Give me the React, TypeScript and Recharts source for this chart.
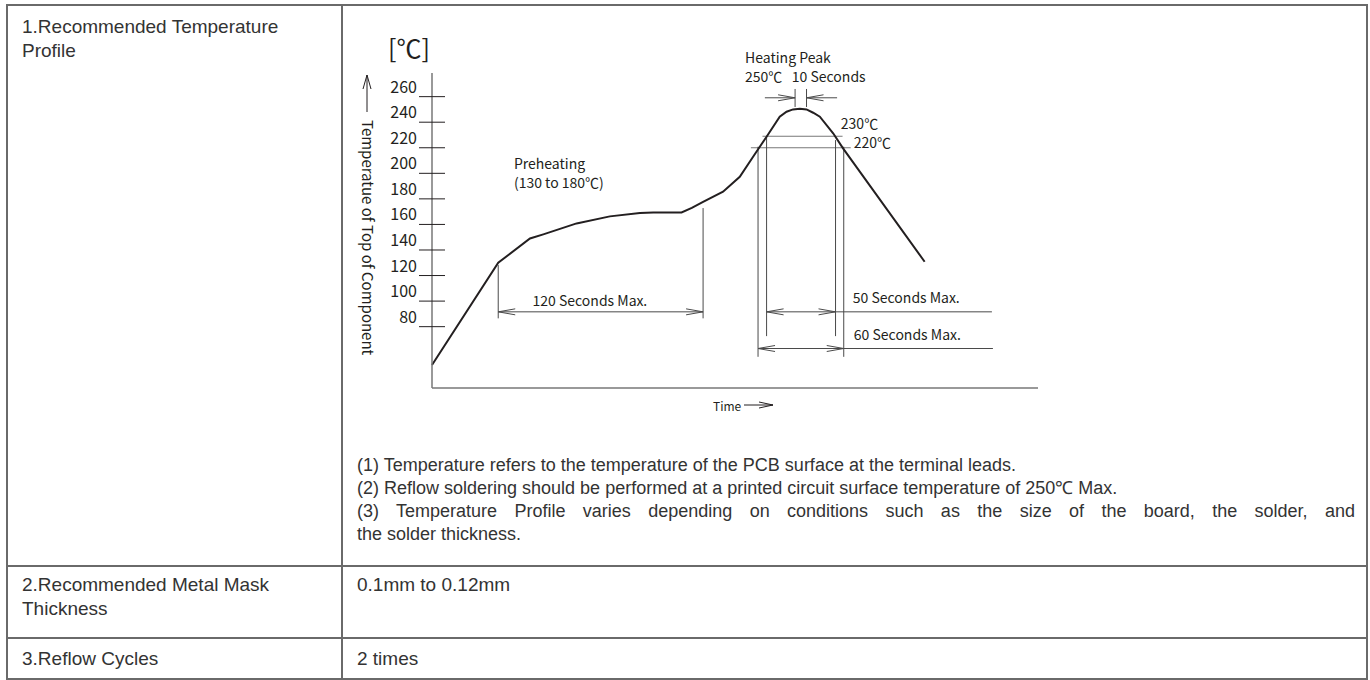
import React from "react";
import {
  ComposedChart,
  Line,
  XAxis,
  YAxis,
  ReferenceLine,
  ReferenceDot,
} from "recharts";

// reflow profile (time in s, temperature of top of component in °C)
const timeSec = [
  0, 38.8, 57.4, 65.2, 84.7, 104.2, 121.8, 129.6, 146.2, 152.2, 158.8, 170.5,
  180.3, 188.1, 196, 203.7, 207.7, 211.5, 215.5, 219.4, 223.3, 227.2, 235,
  240.8, 288.6,
];
const tempC = [
  50, 130, 149, 152.2, 160.8, 166.3, 168.9, 169.4, 169.4, 173, 177.7, 185.6,
  197.3, 213, 228.6, 244.3, 248.2, 250, 250.5, 250, 247.4, 244.3, 231.3, 219.5,
  130.8,
];
const tempTicks = [80, 100, 120, 140, 160, 180, 200, 220, 240, 260];

const rowTitles = [
  ["1.Recommended Temperature", "Profile"],
  ["2.Recommended Metal Mask", "Thickness"],
  ["3.Reflow Cycles"],
];
const rowValues = ["0.1mm to 0.12mm", "2 times"];
const notes = [
  "(1) Temperature refers to the temperature of the PCB surface at the terminal leads.",
  "(2) Reflow soldering should be performed at a printed circuit surface temperature of 250℃ Max.",
  "(3) Temperature Profile varies depending on conditions such as the size of the board, the solder, and",
  "the solder thickness.",
];

const profile = timeSec.map((t, i) => ({ t, temp: tempC[i] }));

const INK = "#231f20";
const THIN = "#4a4a4a";
const BORDER = "#6a6a6a";
const TEXT = "#333";
const CHART_FONT = '"Noto Sans CJK JP", "Noto Sans", sans-serif';
const TABLE_FONT = '"Liberation Sans", Arial, sans-serif';

// dimension line with open chevron heads
const dimension = (heads: "both" | "end") => (p: any) => {
  const { x1, y1, x2, y2 } = p;
  const len = Math.hypot(x2 - x1, y2 - y1) || 1;
  const ux = (x2 - x1) / len;
  const uy = (y2 - y1) / len;
  const L = 17;
  const W = 3;
  const head = (tx: number, ty: number, dx: number, dy: number) =>
    `M${tx - dx * L - dy * W},${ty - dy * L + dx * W}L${tx},${ty}L${tx - dx * L + dy * W},${ty - dy * L - dx * W}`;
  let d = `M${x1},${y1}L${x2},${y2}` + head(x2, y2, ux, uy);
  if (heads === "both") d += head(x1, y1, -ux, -uy);
  return <path d={d} fill="none" stroke={THIN} strokeWidth={1} />;
};

const TempTick = (props: any) => {
  const { x, y, payload } = props;
  return (
    <g>
      <line x1={x - 13} x2={x + 13} y1={y} y2={y} stroke={INK} strokeWidth={1} />
      <text
        x={x - 15}
        y={y - 11}
        textAnchor="end"
        dominantBaseline="central"
        fontSize={16}
        fill={INK}
      >
        {payload.value}
      </text>
    </g>
  );
};

const TempTitle = (props: any) => {
  const { viewBox } = props;
  const ax = viewBox.x + viewBox.width;
  const top = viewBox.y;
  const cx = ax - 65;
  return (
    <g fill={INK}>
      <text x={ax - 23} y={top - 26} textAnchor="middle" dominantBaseline="central" fontSize={25}>
        [℃]
      </text>
      <path
        d={`M${cx},${top + 2}L${cx},${top + 39}M${cx - 4},${top + 16}L${cx},${top + 2}L${cx + 4},${top + 16}`}
        stroke={INK}
        fill="none"
        strokeWidth={1}
      />
      <text
        x={cx + 1}
        y={top + 47}
        transform={`rotate(90 ${cx + 1} ${top + 47})`}
        dominantBaseline="central"
        fontSize={15}
      >
        Temperatue of Top of Component
      </text>
    </g>
  );
};

const TimeTitle = (props: any) => {
  const { viewBox } = props;
  const x = viewBox.x + 281;
  const y = viewBox.y + 17;
  return (
    <g>
      <text x={x} y={y} dominantBaseline="central" fontSize={12} fill={INK}>
        Time
      </text>
      <path
        d={`M${x + 31},${y}L${x + 60},${y}M${x + 46},${y - 3}L${x + 60},${y}L${x + 46},${y + 3}`}
        stroke={INK}
        fill="none"
        strokeWidth={1}
      />
    </g>
  );
};

const note = (t: number, v: number, text: string, position: "right" | "center" = "right") => (
  <ReferenceDot
    key={text}
    x={t}
    y={v}
    r={0}
    fill="none"
    stroke="none"
    ifOverflow="visible"
    label={{ value: text, position, offset: 0, fontSize: 14, fill: INK }}
  />
);

const ProfileChart = () => (
  <ComposedChart
    width={1023}
    height={440}
    data={profile}
    margin={{ top: 67, left: 29, right: 328, bottom: 28 }}
    style={{ fontFamily: CHART_FONT }}
  >
    <XAxis
      dataKey="t"
      type="number"
      domain={[0, 355]}
      tick={false}
      tickLine={false}
      height={30}
      axisLine={{ stroke: "#777", strokeWidth: 1.5 }}
      label={<TimeTitle />}
    />
    <YAxis
      type="number"
      domain={[32, 278.5]}
      ticks={tempTicks}
      interval={0}
      width={60}
      tickSize={0}
      tickMargin={0}
      tickLine={false}
      tick={<TempTick />}
      axisLine={{ stroke: "#777", strokeWidth: 1.5 }}
      label={<TempTitle />}
    />

    {/* preheating window */}
    <ReferenceLine segment={[{ x: 38.8, y: 128.2 }, { x: 38.8, y: 86.5 }]} stroke={THIN} ifOverflow="visible" />
    <ReferenceLine segment={[{ x: 158.8, y: 172.8 }, { x: 158.8, y: 86.5 }]} stroke={THIN} ifOverflow="visible" />
    <ReferenceLine
      segment={[{ x: 38.8, y: 91.6 }, { x: 158.8, y: 91.6 }]}
      stroke={THIN}
      ifOverflow="visible"
      shape={dimension("both")}
    />

    {/* peak */}
    <ReferenceLine segment={[{ x: 212.7, y: 266 }, { x: 212.7, y: 251.9 }]} stroke={THIN} ifOverflow="visible" />
    <ReferenceLine segment={[{ x: 219.4, y: 266 }, { x: 219.4, y: 251.9 }]} stroke={THIN} ifOverflow="visible" />
    <ReferenceLine segment={[{ x: 195, y: 259.1 }, { x: 212.7, y: 259.1 }]} stroke={THIN} ifOverflow="visible" shape={dimension("end")} />
    <ReferenceLine segment={[{ x: 237.3, y: 259.1 }, { x: 219.4, y: 259.1 }]} stroke={THIN} ifOverflow="visible" shape={dimension("end")} />

    {/* 230 / 220 levels */}
    <ReferenceLine segment={[{ x: 193.6, y: 229 }, { x: 240.5, y: 229 }]} stroke="#777" strokeWidth={1.2} ifOverflow="visible" />
    <ReferenceLine segment={[{ x: 186.8, y: 220 }, { x: 245.3, y: 220 }]} stroke="#777" strokeWidth={1.2} ifOverflow="visible" />
    <ReferenceLine segment={[{ x: 196, y: 228.4 }, { x: 196, y: 72.6 }]} stroke={THIN} ifOverflow="visible" />
    <ReferenceLine segment={[{ x: 236.4, y: 226 }, { x: 236.4, y: 72.6 }]} stroke={THIN} ifOverflow="visible" />
    <ReferenceLine segment={[{ x: 191, y: 220.8 }, { x: 191, y: 56.4 }]} stroke={THIN} ifOverflow="visible" />
    <ReferenceLine segment={[{ x: 241.2, y: 220.8 }, { x: 241.2, y: 56.4 }]} stroke={THIN} ifOverflow="visible" />
    <ReferenceLine segment={[{ x: 196, y: 91.6 }, { x: 236.4, y: 91.6 }]} stroke={THIN} ifOverflow="visible" shape={dimension("both")} />
    <ReferenceLine segment={[{ x: 236.4, y: 91.6 }, { x: 328, y: 91.6 }]} stroke={THIN} ifOverflow="visible" />
    <ReferenceLine segment={[{ x: 191, y: 62.9 }, { x: 241.2, y: 62.9 }]} stroke={THIN} ifOverflow="visible" shape={dimension("both")} />
    <ReferenceLine segment={[{ x: 241.2, y: 62.9 }, { x: 328.6, y: 62.9 }]} stroke={THIN} ifOverflow="visible" />

    <Line
      dataKey="temp"
      type="linear"
      stroke={INK}
      strokeWidth={2}
      dot={false}
      isAnimationActive={false}
    />

    {note(48, 207, "Preheating")}
    {note(48, 192.1, "(130 to 180℃)")}
    {note(92.5, 100, "120 Seconds Max.", "center")}
    {note(183.4, 290, "Heating Peak")}
    {note(183.4, 275.6, "250℃\u00a0\u00a0 10 Seconds")}
    {note(239.5, 238.6, "230℃")}
    {note(247.1, 224, "220℃")}
    {note(246.5, 102.3, "50 Seconds Max.")}
    {note(247.1, 73.4, "60 Seconds Max.")}
  </ComposedChart>
);

const hLine = (top: number) => (
  <div key={"h" + top} style={{ position: "absolute", left: 6, top: top - 1, width: 1362, height: 2, background: BORDER }} />
);
const vLine = (left: number) => (
  <div key={"v" + left} style={{ position: "absolute", left: left - 1, top: 4, width: 2, height: 676, background: BORDER }} />
);

const cellText = (left: number, top: number, lines: string[]) => (
  <div style={{ position: "absolute", left, top, fontSize: 19, lineHeight: "24px", color: TEXT }}>
    {lines.map((l) => (
      <div key={l} style={{ whiteSpace: "pre" }}>{l}</div>
    ))}
  </div>
);

export default function App() {
  return (
    <div
      style={{
        position: "absolute",
        left: 0,
        top: 0,
        width: 1370,
        height: 680,
        background: "#fff",
        fontFamily: TABLE_FONT,
        overflow: "hidden",
      }}
    >
      {[5, 566, 638, 679].map(hLine)}
      {[7, 342, 1367].map(vLine)}

      {cellText(22, 15, rowTitles[0])}
      {cellText(22, 573, rowTitles[1])}
      {cellText(22, 647, rowTitles[2])}
      {cellText(357, 573, [rowValues[0]])}
      {cellText(357, 647, [rowValues[1]])}

      <div style={{ position: "absolute", left: 343, top: 6 }}>
        <ProfileChart />
      </div>

      <div
        style={{
          position: "absolute",
          left: 357,
          top: 454,
          width: 998,
          fontSize: 18,
          lineHeight: "23px",
          color: TEXT,
        }}
      >
        <div>{notes[0]}</div>
        <div>{notes[1]}</div>
        <div style={{ textAlign: "justify", textAlignLast: "justify" }}>{notes[2]}</div>
        <div>{notes[3]}</div>
      </div>
    </div>
  );
}
